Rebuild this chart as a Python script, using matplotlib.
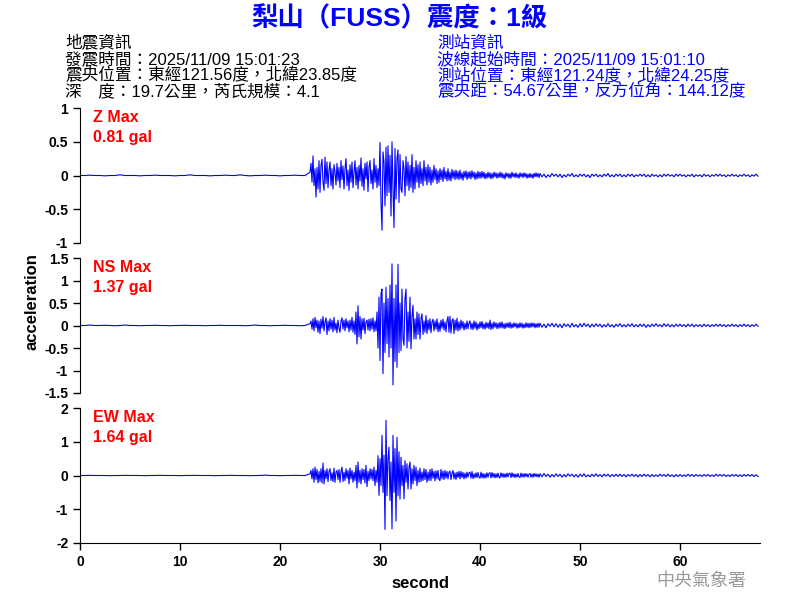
import numpy as np
import matplotlib
matplotlib.use('agg')
import matplotlib.pyplot as plt

plt.rcParams['font.family'] = ['Liberation Sans', 'Noto Sans CJK TC']

# --- header texts ---
title = '梨山（FUSS）震度：1級'
quake_info = ['地震資訊',
              '發震時間：2025/11/09 15:01:23',
              '震央位置：東經121.56度，北緯23.85度',
              '深\u3000度：19.7公里，芮氏規模：4.1']
station_info = ['測站資訊',
                '波線起始時間：2025/11/09 15:01:10',
                '測站位置：東經121.24度，北緯24.25度',
                '震央距：54.67公里，反方位角：144.12度']

components = ['Z', 'NS', 'EW']
max_labels = ['0.81 gal', '1.37 gal', '1.64 gal']
ylims = [1.0, 1.5, 2.0]
yticks = [[-1, -0.5, 0, 0.5, 1],
          [-1.5, -1, -0.5, 0, 0.5, 1, 1.5],
          [-2, -1, 0, 1, 2]]
xticks = [0, 10, 20, 30, 40, 50, 60]

# --- waveform samples read from the record ---
# pre-event noise, every 0.5 s from 0 s
z_pre = [0.0, 0.0, 0.005, 0.0, 0.0, -0.005, 0.0, 0.0, 0.01, 0.0,
         0.0, 0.0, -0.005, 0.0, 0.0, 0.005, 0.0, 0.0, 0.0, -0.005,
         0.0, 0.0, 0.01, 0.0, 0.0, 0.0, -0.005, 0.0, 0.0, 0.005,
         0.0, 0.0, 0.01, 0.0, -0.005, 0.0, 0.0, 0.005, 0.0, 0.0,
         -0.005, 0.0, 0.0, 0.005, 0.0, 0.0]
ns_pre = [0.0, 0.0, 0.01, 0.0, 0.0, 0.005, 0.0, -0.005, 0.0, 0.01,
          0.0, 0.0, -0.005, 0.0, 0.0, 0.005, 0.0, 0.0, -0.005, 0.0,
          0.0, 0.005, 0.0, 0.0, 0.0, -0.005, 0.0, 0.0, 0.005, 0.0,
          0.0, 0.0, 0.0, -0.005, 0.0, 0.01, 0.0, 0.0, -0.005, 0.0,
          0.0, 0.005, 0.0, 0.0, -0.005, 0.0]
ew_pre = [0.0, 0.0, 0.005, 0.0, 0.0, 0.0, -0.005, 0.0, 0.0, 0.005,
          0.0, 0.0, 0.0, -0.005, 0.0, 0.0, 0.005, 0.0, 0.0, 0.0,
          -0.005, 0.0, 0.0, 0.005, 0.0, 0.0, 0.0, -0.005, 0.0, 0.0,
          0.005, 0.0, 0.0, 0.0, -0.005, 0.0, 0.0, 0.01, 0.0, 0.0,
          -0.005, 0.0, 0.0, 0.005, 0.0, 0.0]

# main shaking, every 0.1 s from 23.0 s (one row per second)
z_main = [0.05, 0.18, -0.10, 0.29, -0.15, 0.10, -0.32, 0.12, -0.20, 0.22,
          -0.25, 0.15, 0.24, -0.10, -0.22, 0.27, -0.12, 0.20, -0.18, 0.08,
          0.20, -0.15, 0.10, -0.20, 0.16, 0.05, -0.14, 0.18, -0.08, 0.12,
          -0.18, 0.22, -0.06, 0.14, -0.20, 0.10, 0.25, -0.15, 0.08, -0.22,
          0.16, -0.10, 0.20, -0.18, 0.05, 0.22, -0.14, 0.12, -0.20, 0.15,
          -0.08, 0.26, -0.16, 0.10, -0.22, 0.18, -0.05, 0.20, -0.24, 0.12,
          0.22, -0.12, 0.08, -0.20, 0.25, -0.10, 0.15, -0.18, 0.10, -0.15,
          0.49, -0.40, -0.81, 0.35, 0.20, -0.45, 0.42, -0.30, 0.44, -0.25,
          0.30, -0.60, 0.50, -0.20, -0.77, 0.40, -0.35, 0.25, 0.38, -0.40,
          0.31, -0.20, -0.25, 0.22, 0.10, -0.30, 0.28, -0.15, 0.20, -0.22,
          0.15, -0.18, 0.31, -0.25, 0.12, -0.20, 0.22, -0.10, 0.16, -0.18,
          0.20, -0.12, 0.10, -0.15, 0.22, -0.08, 0.12, -0.14, 0.16, -0.10,
          0.12, -0.14, 0.08, -0.10, 0.15, -0.06, 0.10, -0.12, 0.07, -0.10,
          0.10, -0.06, 0.08, -0.09, 0.12, -0.05, 0.06, -0.08, 0.10, -0.07,
          0.05, -0.08, 0.09, -0.04, 0.07, -0.06, 0.08, -0.05, 0.06, -0.06,
          0.08, -0.05, 0.04, -0.07, 0.06, -0.03, 0.07, -0.06, 0.05, -0.04,
          0.06, -0.05, 0.07, -0.03, 0.05, -0.06, 0.04, -0.05, 0.06, -0.04,
          0.05, -0.04, 0.06, -0.03, 0.05, -0.05, 0.03, -0.04, 0.05, -0.03,
          0.04, -0.05, 0.03, -0.04, 0.05, -0.02, 0.04, -0.04, 0.03, -0.03,
          0.05, -0.03, 0.04, -0.04, 0.02, -0.05, 0.04, -0.02, 0.03, -0.04,
          0.03, -0.04, 0.05, -0.02, 0.03, -0.03, 0.04, -0.03, 0.02, -0.04,
          0.04, -0.02, 0.03, -0.03, 0.04, -0.02, 0.03, -0.04, 0.02, -0.03,
          0.03, -0.03, 0.02, -0.04, 0.03, -0.02, 0.04, -0.02, 0.03, -0.03]
ns_main = [0.04, 0.10, -0.08, 0.15, -0.12, 0.18, -0.05, 0.12, -0.15, 0.10,
           -0.18, 0.14, -0.06, 0.20, -0.12, 0.08, 0.17, -0.20, 0.10, -0.12,
           0.15, -0.08, 0.12, -0.14, 0.18, -0.10, 0.05, -0.16, 0.12, -0.06,
           -0.15, 0.10, 0.17, -0.08, 0.12, -0.12, 0.15, -0.05, 0.10, -0.14,
           0.12, -0.10, 0.18, -0.15, 0.10, -0.20, 0.30, -0.41, 0.44, -0.25,
           0.20, -0.30, 0.15, -0.10, 0.16, -0.18, 0.08, 0.12, -0.10, 0.14,
           -0.12, 0.15, -0.08, 0.17, -0.14, 0.10, -0.12, 0.30, -0.50, 0.63,
           -0.78, 0.70, 0.81, -1.07, 0.50, -0.60, 0.85, -0.40, 0.60, -0.70,
           0.90, -0.50, 1.37, -1.32, 0.60, -0.80, 0.90, -0.93, 1.36, -0.60,
           0.50, -0.56, 0.81, -0.30, -0.44, 0.60, 0.81, -0.50, 0.30, -0.35,
           0.63, -0.52, 0.20, 0.45, -0.30, 0.15, -0.30, 0.30, -0.20, 0.26,
           -0.30, 0.15, 0.26, -0.20, 0.10, -0.15, 0.22, -0.18, 0.12, -0.10,
           0.15, -0.16, 0.08, 0.14, -0.12, 0.10, -0.08, 0.15, -0.14, 0.06,
           -0.13, 0.12, -0.06, 0.14, -0.10, 0.08, -0.14, 0.10, 0.20, -0.15,
           0.20, -0.17, 0.10, 0.15, -0.18, 0.12, -0.10, 0.16, -0.12, 0.08,
           -0.10, 0.12, -0.06, 0.09, -0.10, 0.05, -0.08, 0.10, -0.07, 0.06,
           0.10, -0.08, 0.05, -0.09, 0.10, -0.06, 0.08, -0.10, 0.04, -0.07,
           0.08, -0.05, 0.09, -0.07, 0.04, -0.08, 0.07, -0.05, 0.06, -0.07,
           0.12, -0.09, 0.05, -0.07, 0.08, -0.04, 0.06, -0.07, 0.05, -0.06,
           0.07, -0.05, 0.08, -0.06, 0.04, -0.07, 0.05, -0.04, 0.06, -0.05,
           0.07, -0.06, 0.04, -0.05, 0.06, -0.03, 0.05, -0.06, 0.04, -0.05,
           0.06, -0.04, 0.05, -0.06, 0.03, -0.05, 0.06, -0.04, 0.05, -0.05,
           0.05, -0.04, 0.06, -0.03, 0.05, -0.05, 0.04, -0.04, 0.05, -0.04]
ew_main = [0.05, 0.15, -0.10, 0.20, -0.20, 0.25, -0.12, 0.18, -0.22, 0.12,
           -0.18, 0.20, -0.22, 0.37, -0.25, 0.15, -0.10, 0.20, -0.18, 0.12,
           0.20, -0.15, 0.08, -0.18, 0.22, -0.20, 0.10, 0.15, -0.12, 0.18,
           -0.20, 0.12, 0.25, -0.18, 0.10, -0.15, 0.20, -0.08, 0.15, -0.25,
           0.22, -0.10, 0.15, -0.20, 0.10, -0.15, 0.30, -0.37, 0.40, -0.20,
           0.15, -0.25, 0.20, -0.12, 0.18, -0.22, 0.30, -0.33, 0.12, -0.15,
           0.20, -0.10, 0.18, -0.15, 0.25, -0.30, 0.15, -0.20, 0.59, -0.59,
           0.50, -0.30, 1.19, -0.50, 0.60, -1.60, 1.64, -0.60, 0.50, 0.84,
           -0.74, 0.40, -1.58, 1.19, -0.50, 0.80, -1.35, 1.13, -0.60, 0.70,
           -0.70, 0.54, -0.30, 0.30, -0.69, 0.44, -0.20, 0.35, -0.40, 0.25,
           0.40, -0.40, 0.20, -0.25, 0.30, -0.15, 0.25, -0.30, 0.15, -0.20,
           0.22, -0.18, 0.10, -0.15, 0.20, -0.12, 0.18, -0.20, 0.10, -0.15,
           0.18, -0.15, 0.20, -0.08, 0.12, -0.16, 0.14, -0.10, 0.15, -0.12,
           -0.15, 0.18, -0.10, 0.13, -0.12, 0.15, -0.08, 0.12, -0.10, 0.10,
           0.13, -0.12, 0.06, 0.15, -0.10, 0.08, -0.12, 0.10, -0.06, 0.12,
           -0.10, 0.12, -0.06, 0.09, -0.10, 0.07, -0.08, 0.10, -0.05, 0.08,
           0.10, -0.08, 0.12, -0.09, 0.05, -0.07, 0.08, -0.06, 0.09, -0.05,
           -0.08, 0.10, -0.07, 0.06, -0.08, 0.05, -0.07, 0.08, -0.05, 0.07,
           0.08, -0.07, 0.09, -0.05, 0.06, -0.07, 0.05, -0.06, 0.07, -0.05,
           -0.07, 0.08, -0.04, 0.06, -0.06, 0.05, -0.05, 0.07, -0.04, 0.06,
           0.07, -0.06, 0.08, -0.04, 0.05, -0.06, 0.04, -0.05, 0.06, -0.04,
           -0.06, 0.07, -0.04, 0.05, -0.05, 0.06, -0.03, 0.05, -0.05, 0.04,
           0.06, -0.05, 0.04, -0.05, 0.06, -0.03, 0.05, -0.04, 0.04, -0.05]

# coda, every 0.2 s from 46.0 s (one row per 2 s)
z_tail = [0.03, -0.02, 0.02, -0.03, 0.01, -0.02, 0.03, -0.01, 0.02, -0.02,
          0.02, -0.03, 0.01, -0.02, 0.02, -0.01, 0.03, -0.02, 0.01, -0.02,
          0.02, -0.01, 0.02, -0.02, 0.01, -0.03, 0.02, -0.01, 0.02, -0.02,
          0.01, -0.02, 0.02, -0.01, 0.03, -0.02, 0.01, -0.02, 0.02, -0.01,
          0.02, -0.02, 0.01, -0.02, 0.02, -0.01, 0.02, -0.02, 0.01, -0.01,
          0.02, -0.01, 0.02, -0.02, 0.01, -0.02, 0.02, -0.01, 0.01, -0.02,
          0.01, -0.02, 0.02, -0.01, 0.02, -0.01, 0.01, -0.02, 0.02, -0.01,
          0.02, -0.01, 0.01, -0.02, 0.01, -0.01, 0.02, -0.02, 0.01, -0.01,
          0.01, -0.02, 0.02, -0.01, 0.01, -0.02, 0.01, -0.01, 0.02, -0.01,
          0.02, -0.01, 0.01, -0.02, 0.01, -0.01, 0.02, -0.01, 0.01, -0.02,
          0.01, -0.01, 0.02, -0.01, 0.01, -0.02, 0.01, -0.01, 0.02, -0.01]
ns_tail = [0.05, -0.04, 0.03, -0.05, 0.04, -0.02, 0.05, -0.03, 0.04, -0.04,
           0.03, -0.05, 0.04, -0.02, 0.03, -0.04, 0.05, -0.03, 0.02, -0.04,
           0.04, -0.03, 0.05, -0.02, 0.03, -0.04, 0.03, -0.03, 0.04, -0.02,
           0.03, -0.04, 0.02, -0.03, 0.04, -0.03, 0.02, -0.04, 0.03, -0.02,
           0.04, -0.03, 0.02, -0.03, 0.03, -0.02, 0.04, -0.03, 0.02, -0.03,
           0.03, -0.02, 0.03, -0.04, 0.02, -0.03, 0.03, -0.02, 0.04, -0.02,
           0.02, -0.03, 0.04, -0.02, 0.03, -0.03, 0.02, -0.03, 0.03, -0.02,
           0.03, -0.02, 0.02, -0.03, 0.03, -0.02, 0.03, -0.03, 0.02, -0.02,
           0.02, -0.03, 0.03, -0.02, 0.02, -0.03, 0.02, -0.02, 0.03, -0.02,
           0.03, -0.02, 0.02, -0.03, 0.02, -0.02, 0.03, -0.02, 0.02, -0.03,
           0.02, -0.02, 0.03, -0.02, 0.02, -0.03, 0.02, -0.02, 0.03, -0.02]
ew_tail = [0.05, -0.04, 0.06, -0.03, 0.04, -0.05, 0.03, -0.04, 0.05, -0.03,
           0.04, -0.05, 0.03, -0.04, 0.05, -0.02, 0.04, -0.04, 0.03, -0.05,
           0.04, -0.03, 0.05, -0.04, 0.02, -0.04, 0.04, -0.03, 0.05, -0.03,
           0.03, -0.04, 0.04, -0.02, 0.04, -0.04, 0.03, -0.03, 0.04, -0.03,
           0.04, -0.03, 0.03, -0.04, 0.03, -0.02, 0.04, -0.03, 0.03, -0.04,
           0.03, -0.03, 0.04, -0.02, 0.03, -0.04, 0.03, -0.03, 0.02, -0.03,
           0.04, -0.02, 0.03, -0.03, 0.04, -0.03, 0.02, -0.04, 0.03, -0.03,
           0.03, -0.03, 0.02, -0.03, 0.04, -0.02, 0.03, -0.03, 0.03, -0.02,
           0.02, -0.03, 0.03, -0.02, 0.03, -0.03, 0.02, -0.03, 0.04, -0.02,
           0.03, -0.02, 0.03, -0.03, 0.02, -0.03, 0.03, -0.02, 0.03, -0.03,
           0.02, -0.03, 0.03, -0.02, 0.03, -0.02, 0.03, -0.03, 0.02, -0.03]

traces = [(z_pre, z_main, z_tail), (ns_pre, ns_main, ns_tail), (ew_pre, ew_main, ew_tail)]


def build_trace(pre, main, tail):
    '''3区間のサンプルを時系列に連結'''
    t = np.concatenate([np.arange(len(pre)) * 0.5,
                        23.0 + np.arange(len(main)) * 0.1,
                        46.0 + np.arange(len(tail)) * 0.2])
    y = np.concatenate([pre, main, tail])
    return t, y


fig = plt.figure(figsize=(8, 6), dpi=100)

fig.text(0.5, 1 - 19 / 600, title, ha='center', va='center',
         fontsize=19, fontweight='bold', color='#0000ff')
for i, (left, right) in enumerate(zip(quake_info, station_info)):
    y = 1 - (43 + 16 * i) / 600
    fig.text(65 / 800, y, left, ha='left', va='center', fontsize=12,
             color='black')
    fig.text(437 / 800, y, right, ha='left', va='center', fontsize=12,
             color='#0000ff')

panel_tops = [108, 258, 408]
for k, comp in enumerate(components):
    top = panel_tops[k]
    ax = fig.add_axes([80 / 800, 1 - (top + 135) / 600, 680 / 800, 135 / 600])
    t, y = build_trace(*traces[k])
    ax.plot(t, y, color='#0000ff', linewidth=0.8)
    ax.set_xlim(0, 68)
    ax.set_ylim(-ylims[k], ylims[k])
    ax.set_yticks(yticks[k])
    ax.set_yticklabels([f'{v:g}' for v in yticks[k]], fontsize=10, fontweight='bold')
    for s in ('top', 'right'):
        ax.spines[s].set_visible(False)
    ax.tick_params(direction='out', length=5, width=1)
    if k < 2:
        ax.spines['bottom'].set_visible(False)
        ax.set_xticks([])
    else:
        ax.set_xticks(xticks)
        ax.set_xticklabels([str(v) for v in xticks], fontsize=10, fontweight='bold')
        ax.set_xlabel('second', fontsize=12, fontweight='bold', labelpad=5)
    ax.text(13 / 680, 0.926, f'{comp} Max', transform=ax.transAxes,
            ha='left', va='center', fontsize=11.5, fontweight='bold', color='#ff0000')
    ax.text(13 / 680, 0.778, max_labels[k], transform=ax.transAxes,
            ha='left', va='center', fontsize=11.5, fontweight='bold', color='#ff0000')

fig.text(32 / 800, 1 - 302 / 600, 'acceleration', rotation=90, ha='center',
         va='center', fontsize=12, fontweight='bold')
fig.text(701 / 800, 1 - 581 / 600, '中央氣象署', ha='center', va='center',
         fontsize=13, color='#999999')

plt.savefig('out.png', dpi=100)
